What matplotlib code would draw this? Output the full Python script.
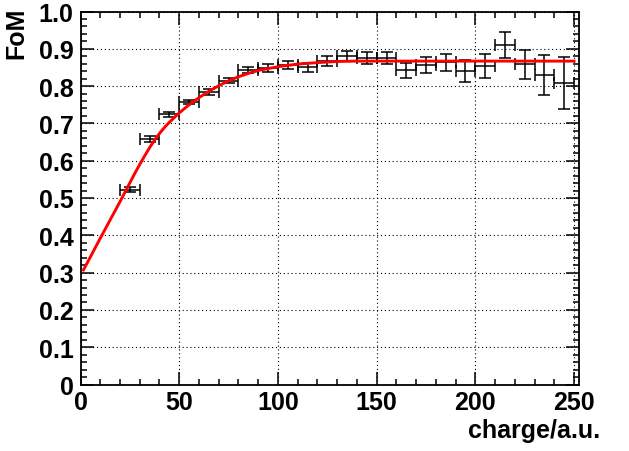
import numpy as np
import matplotlib
matplotlib.use("Agg")
import matplotlib.pyplot as plt
from matplotlib.ticker import MultipleLocator

plt.rcParams["font.family"] = ["Liberation Sans", "DejaVu Sans"]
plt.rcParams["font.weight"] = "bold"

# measured points (bin centres, 10 a.u. wide bins)
charge = [25, 35, 45, 55, 65, 75, 85, 95, 105, 115, 125, 135, 145, 155,
          165, 175, 185, 195, 205, 215, 225, 235, 245]
charge_err = [5] * len(charge)
fom = [0.522, 0.657, 0.724, 0.757, 0.784, 0.815, 0.843, 0.848, 0.857, 0.850,
       0.867, 0.880, 0.875, 0.875, 0.842, 0.857, 0.864, 0.840, 0.854, 0.909,
       0.859, 0.830, 0.809]
fom_err = [0.007, 0.008, 0.007, 0.006, 0.007, 0.008, 0.009, 0.010, 0.011, 0.011,
           0.013, 0.013, 0.016, 0.017, 0.019, 0.022, 0.023, 0.029, 0.031, 0.035,
           0.039, 0.054, 0.070]

# fit curve
fit_x = [1.5, 10, 20, 27.5, 30, 32.5, 35, 37.5, 40, 42.5, 45, 50, 55, 60, 65,
         70, 75, 80, 85, 90, 100, 110, 120, 130, 140, 250]
fit_y = [0.307, 0.392, 0.490, 0.566, 0.590, 0.613, 0.635, 0.655, 0.673, 0.689,
         0.703, 0.728, 0.750, 0.769, 0.786, 0.801, 0.814, 0.825, 0.834, 0.842,
         0.852, 0.859, 0.863, 0.866, 0.867, 0.867]

xticks = [0, 50, 100, 150, 200, 250]
yticks = [0, 0.1, 0.2, 0.3, 0.4, 0.5, 0.6, 0.7, 0.8, 0.9, 1.0]
ylabels = ["0", "0.1", "0.2", "0.3", "0.4", "0.5", "0.6", "0.7", "0.8", "0.9", "1.0"]

W, H = 629, 452
fig = plt.figure(figsize=(W / 100, H / 100), dpi=100)
ax = fig.add_axes([80.5 / W, 1 - 385.5 / H, (579 - 80.5) / W, (385.5 - 12.5) / H])

ax.errorbar(charge, fom, xerr=charge_err, yerr=fom_err, fmt="none", ecolor="black",
            elinewidth=1.1, capsize=4, capthick=1.1, zorder=3)
ax.plot(fit_x, fit_y, color="red", lw=2.1, zorder=4)

ax.set_xlim(0, 252.5)
ax.set_ylim(0, 1.0)
ax.set_xticks(xticks)
ax.set_xticklabels([str(t) for t in xticks])
ax.set_yticks(yticks)
ax.set_yticklabels(ylabels)
ax.xaxis.set_minor_locator(MultipleLocator(10))
ax.yaxis.set_minor_locator(MultipleLocator(0.02))
ax.grid(True, which="major", color="black", linestyle=(0, (1, 2.5)), linewidth=0.8)

ax.tick_params(which="both", direction="in", top=True, right=True, width=1.1)
ax.tick_params(which="major", length=9.5, labelsize=18)
ax.tick_params(which="minor", length=4.5)
ax.tick_params(axis="y", which="major", pad=5)
ax.tick_params(axis="x", which="major", pad=4)
for s in ax.spines.values():
    s.set_linewidth(1.3)

fig.text(16 / W, 1 - 8 / H, "FoM", rotation=90, ha="center", va="top",
         fontsize=18, fontweight="bold")
fig.text(600 / W, 1 - 438 / H, "charge/a.u.", ha="right", va="baseline",
         fontsize=18, fontweight="bold")

fig.savefig("out.png", dpi=100)
